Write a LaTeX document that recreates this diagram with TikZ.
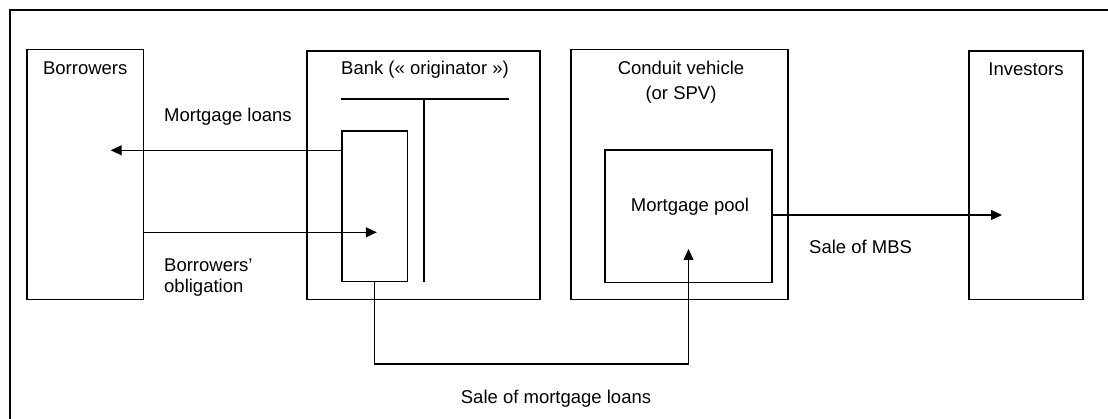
\documentclass[tikz,border=0pt]{standalone}
\usepackage{fontspec}
\setmainfont{Liberation Sans}
\usetikzlibrary{arrows.meta}
\begin{document}
\begin{tikzpicture}[x=1pt,y=-1pt,
  box/.style={draw, line width=1.3pt, anchor=north west, inner sep=0pt, outer sep=0pt},
  lbl/.style={font=\fontsize{18.5}{22}\selectfont, inner sep=0pt},
  conn/.style={line width=1.3pt},
  arr/.style={line width=1.3pt, -{Triangle[length=11pt,width=10pt]}},
  frame/.style={line width=2.8pt}]
\path[use as bounding box] (0,0) rectangle (1108,419);
\begin{scope}
\clip (0,0) rectangle (1108,419);
\coordinate (fBot) at (10,430);
\coordinate (fCorner) at (10,10);
\coordinate (fRight) at (1120,10);
\draw[frame] (fBot) -- (fCorner) -- (fRight);
\end{scope}
% boxes
\node[box, minimum width=116.5pt, minimum height=250pt] (borrowers) at (27,49.3) {};
\node[box, minimum width=233pt, minimum height=248.3pt] (bank) at (307,51) {};
\node[box, minimum width=217pt, minimum height=250pt] (conduit) at (571,49.3) {};
\node[box, minimum width=114pt, minimum height=248.3pt] (investors) at (969,51) {};
\node[box, minimum width=65.5pt, minimum height=150.7pt] (bankin) at (342,131) {};
\node[box, minimum width=167pt, minimum height=132.3pt] (pool) at (605,150) {};
% T line inside bank
\coordinate (tL) at (341,99);
\coordinate (tR) at (508.6,99);
\coordinate (tTop) at (424,99);
\coordinate (tBot) at (424,282.3);
\draw[conn] (tL) -- (tR);
\draw[conn] (tTop) -- (tBot);
% labels in boxes
\node[lbl, anchor=base] (borrowersT) at (85.25,75) {Borrowers};
\node[lbl, anchor=base] (bankT) at (425,74.5) {Bank (« originator »)};
\node[lbl, anchor=base, align=center, font=\fontsize{18.5}{24.5}\selectfont] (conduitT) at (681,99.5) {Conduit vehicle\\(or SPV)};
\node[lbl, anchor=base] (investorsT) at (1026,76) {Investors};
\node[lbl, anchor=base] (poolT) at (690,212) {Mortgage pool};
% connectors
\coordinate (mlTip) at (110.7,150.3);
\draw[arr] (bankin.west |- mlTip) -- (mlTip);
\coordinate (boTip) at (376.8,232.3);
\draw[arr] (borrowers.east |- boTip) -- (boTip);
\coordinate (slLow) at (0,364);
\coordinate (slTip) at (688.5,249);
\draw[arr] (bankin.south) -- (bankin.south |- slLow) -| (slTip);
\coordinate (mbsTip) at (1002,215);
\draw[arr] (pool.east |- mbsTip) -- (mbsTip);
% connector labels
\node[lbl, anchor=base west] (mlT) at (164,121.6) {Mortgage loans};
\node[lbl, anchor=base west, align=left, font=\fontsize{18.5}{20.5}\selectfont] (boT) at (164,292.5) {Borrowers'\\obligation};
\node[lbl, anchor=base] (slT) at (556,403) {Sale of mortgage loans};
\node[lbl, anchor=base west] (mbsT) at (809,254) {Sale of MBS};
\end{tikzpicture}
\end{document}
